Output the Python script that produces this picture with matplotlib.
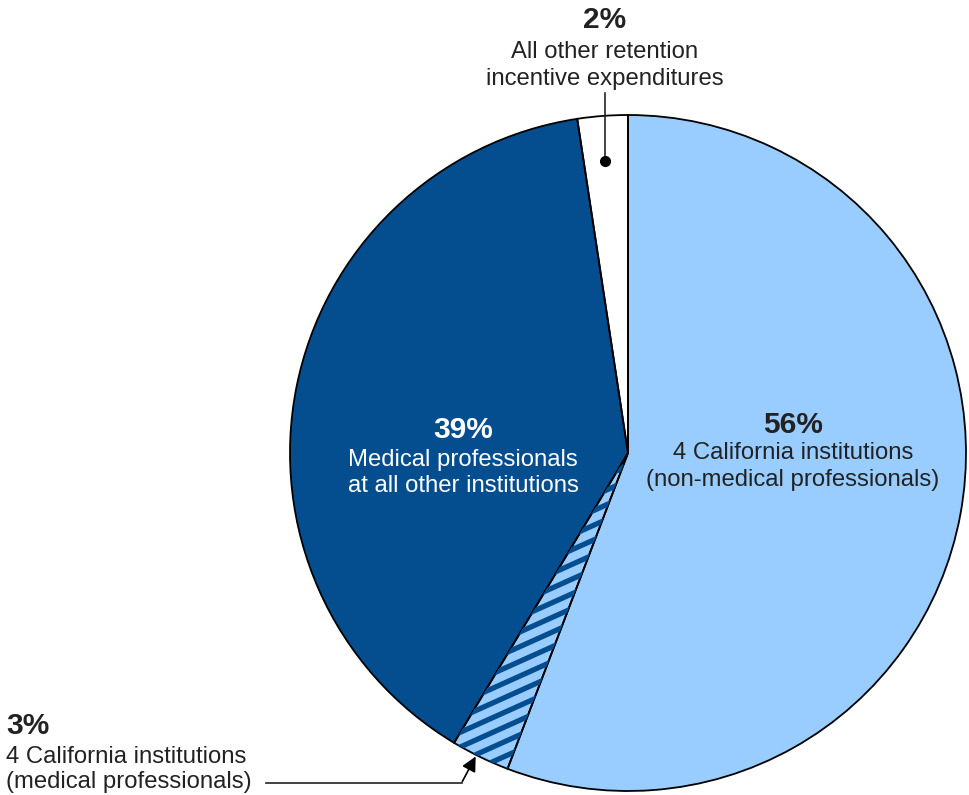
import numpy as np
import matplotlib.pyplot as plt

shares = [55.8, 2.8, 39.0, 2.4]
pct_labels = ["56%", "3%", "39%", "2%"]
descriptions = [
    ["4 California institutions", "(non-medical professionals)"],
    ["4 California institutions", "(medical professionals)"],
    ["Medical professionals", "at all other institutions"],
    ["All other retention", "incentive expenditures"],
]
light_blue = "#99CCFF"
dark_blue = "#044E90"
face_colors = [light_blue, light_blue, dark_blue, "white"]

W, H = 970, 795
plt.rcParams["font.family"] = ["Liberation Sans", "DejaVu Sans"]

fig = plt.figure(figsize=(W / 100, H / 100), dpi=100)
ax = fig.add_axes([0, 0, 1, 1])

cx, cy, r = 628, H - 453, 338

wedges, _ = ax.pie(shares, colors=face_colors, startangle=90, counterclock=False,
                   center=(cx, cy), radius=r, frame=True,
                   wedgeprops=dict(edgecolor="none", linewidth=0))

# diagonal stripes on the 3% slice, clipped to the wedge
xs = np.array([380, 660])
for off in np.arange(-400, 400, 14.7):
    ln, = ax.plot(xs, 0.45 * (xs - 480) + off + 60, color=dark_blue, lw=3.8,
                  solid_capstyle="butt")
    ln.set_clip_path(wedges[1])

# black outlines on top
ax.pie(shares, colors=["none"] * 4, startangle=90, counterclock=False,
       center=(cx, cy), radius=r, frame=True,
       wedgeprops=dict(edgecolor="black", linewidth=1.3, fill=False))
ax.set_xlim(0, W)
ax.set_ylim(0, H)
ax.set_aspect("equal")
ax.axis("off")

def y(p):
    return H - p

big = 21.5
small = 17.2
ink = "#222222"

def label(x, ys, idx, color, ha="center"):
    ax.text(x, y(ys[0]), pct_labels[idx], ha=ha, va="center", fontsize=big,
            fontweight="bold", color=color)
    for line, yy in zip(descriptions[idx], ys[1:]):
        ax.text(x, y(yy), line, ha=ha, va="center", fontsize=small, color=color)

label(793, [425, 453, 480], 0, ink)
label(463, [430, 460, 486], 2, "white")
label(6, [726, 757, 782], 1, ink, ha="left")
label(605, [20, 52, 79], 3, ink)

# leader for 3%
ax.plot([266, 462], [y(783), y(783)], color=ink, lw=1.2)
ax.annotate("", xy=(477, y(754)), xytext=(461, y(784)),
            arrowprops=dict(arrowstyle="-|>", color="black", lw=1.2, mutation_scale=22))
# leader for 2%
ax.plot([605, 605], [y(93), y(160)], color=ink, lw=1.2)
ax.plot([605], [y(161)], "o", color="black", markersize=7)

fig.savefig("out.png", dpi=100)
